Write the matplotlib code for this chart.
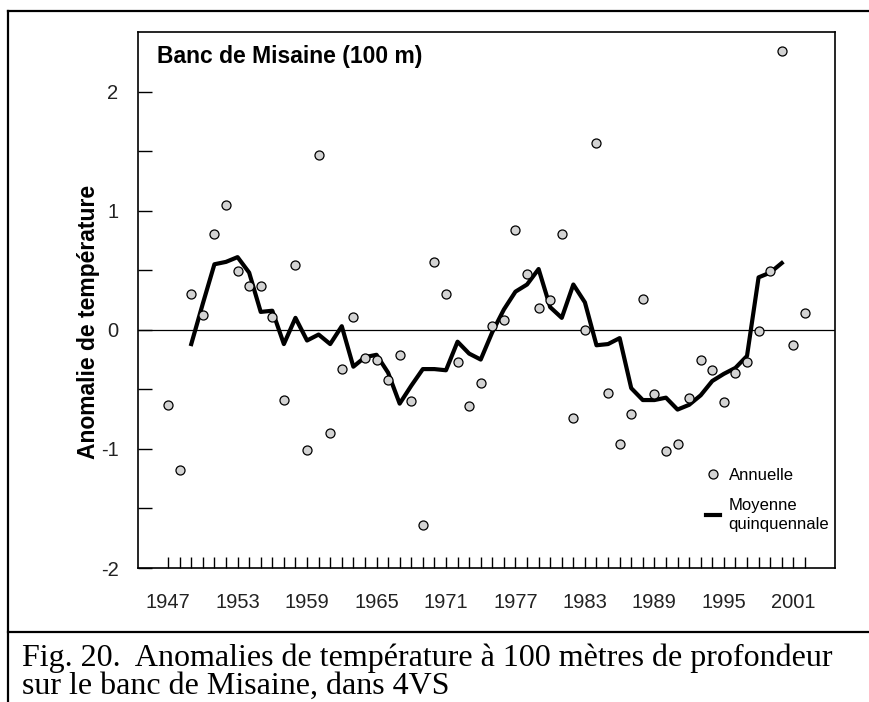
"""
Banc de Misaine (100 m): annual temperature anomalies and 5-year mean
"""

import matplotlib

matplotlib.use("Agg")
import matplotlib.pyplot as plt
from matplotlib.lines import Line2D

# annual anomalies
years = list(range(1947, 2003))
annual = [
    -0.63, -1.18, 0.30, 0.12, 0.80, 1.05, 0.49, 0.37, 0.37, 0.11,
    -0.59, 0.54, -1.01, 1.47, -0.87, -0.33, 0.11, -0.24, -0.25, -0.42,
    -0.21, -0.60, -1.64, 0.57, 0.30, -0.27, -0.64, -0.45, 0.03, 0.08,
    0.84, 0.47, 0.18, 0.25, 0.80, -0.74, 0.00, 1.57, -0.53, -0.96,
    -0.71, 0.26, -0.54, -1.02, -0.96, -0.57, -0.25, -0.34, -0.61, -0.36,
    -0.27, -0.01, 0.49, 2.34, -0.13, 0.14,
]

# five year mean (thick line)
mean_years = list(range(1949, 2001))
mean5 = [
    -0.12, 0.22, 0.55, 0.57, 0.61, 0.48, 0.15, 0.16, -0.12, 0.10,
    -0.09, -0.04, -0.12, 0.03, -0.31, -0.23, -0.21, -0.36, -0.62, -0.47,
    -0.33, -0.33, -0.34, -0.10, -0.20, -0.25, -0.02, 0.17, 0.32, 0.38,
    0.51, 0.19, 0.10, 0.38, 0.23, -0.13, -0.12, -0.07, -0.49, -0.59,
    -0.59, -0.57, -0.67, -0.63, -0.55, -0.43, -0.37, -0.32, -0.22, 0.44,
    0.48, 0.56,
]

label_years = list(range(1947, 2002, 6))
ytick_values = [-2, -1.5, -1, -0.5, 0, 0.5, 1, 1.5, 2]
ytick_labels = ["-2", "", "-1", "", "0", "", "1", "", "2"]

SANS = ["Liberation Sans", "DejaVu Sans"]
SERIF = ["Liberation Serif", "DejaVu Serif"]

W, H = 870, 702
fig = plt.figure(figsize=(W / 100, H / 100), dpi=100)
ax = fig.add_axes([138 / W, 1 - 568 / H, 697 / W, 536 / H])

ax.axhline(0, color="black", lw=0.9, zorder=1)
(line,) = ax.plot(
    mean_years, mean5, color="black", lw=3.0, zorder=2,
    label="Moyenne\nquinquennale",
)
(pts,) = ax.plot(
    years, annual, ls="none", marker="o", ms=6.5, mfc="#d3d3d3",
    mec="black", mew=0.9, zorder=3, label="Annuelle",
)

ax.set_xlim(1944.4, 2004.6)
ax.set_ylim(-2, 2.5)
ax.set_xticks(years)
ax.set_xticklabels([str(y) if y in label_years else "" for y in years])
ax.set_yticks(ytick_values)
ax.set_yticklabels(ytick_labels)
ax.tick_params(axis="x", direction="in", length=8, width=1, pad=18,
               labelsize=14.5, labelcolor="#222222")
ax.tick_params(axis="y", direction="in", length=10, width=1, pad=14,
               labelsize=14.5, labelcolor="#222222")
for lab in ax.get_xticklabels() + ax.get_yticklabels():
    lab.set_family(SANS)
for sp in ax.spines.values():
    sp.set_linewidth(1.2)

ax.text(
    (157 - 138) / 697, (568 - 56) / 536, "Banc de Misaine (100 m)",
    transform=ax.transAxes, ha="left", va="center",
    fontsize=16.5, fontweight="bold", family=SANS,
)

fig.text(
    89 / W, 1 - 322 / H, "Anomalie de température", rotation=90,
    ha="center", va="center", fontsize=16.5, fontweight="bold", family=SANS,
)

leg = ax.legend(
    handles=[pts, line], loc="upper left",
    bbox_to_anchor=((706 - 138) / 697, (568 - 468) / 536),
    frameon=False, prop={"family": SANS, "size": 12},
    handlelength=0.85, handletextpad=0.5, labelspacing=0.9,
    borderpad=0, borderaxespad=0, numpoints=1,
)
leg.get_texts()[1].set_linespacing(1.3)

# outer frame of the figure page
frame = dict(transform=fig.transFigure, color="black", lw=1.6)
fig.add_artist(Line2D([8 / W, 8 / W], [0, 1 - 11 / H], **frame))
fig.add_artist(Line2D([8 / W, 1], [1 - 11 / H, 1 - 11 / H], **frame))
fig.add_artist(Line2D([8 / W, 1], [1 - 632 / H, 1 - 632 / H], **frame))

fig.text(
    22 / W, 1 - 666 / H,
    "Fig. 20.  Anomalies de température à 100 mètres de profondeur",
    ha="left", va="baseline", fontsize=23, family=SERIF,
)
fig.text(
    22 / W, 1 - 694 / H, "sur le banc de Misaine, dans 4VS",
    ha="left", va="baseline", fontsize=23, family=SERIF,
)

plt.savefig("out.png", dpi=100)
